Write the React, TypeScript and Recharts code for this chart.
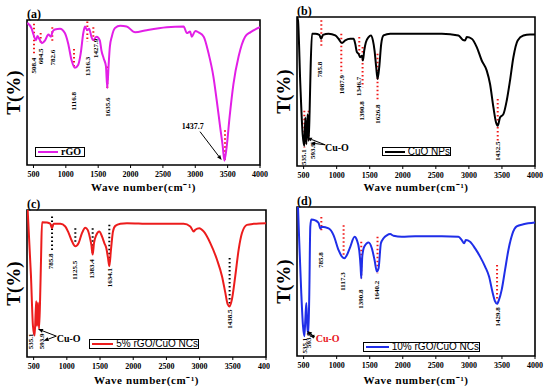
import React from "react";
import {
  LineChart,
  Line,
  XAxis,
  YAxis,
  ReferenceLine,
  ReferenceDot,
  ReferenceArea,
  Legend,
} from "recharts";

const TICKS = [500, 1000, 1500, 2000, 2500, 3000, 3500, 4000];

// (a) rGO
const rgoWave = [405, 472, 500, 540, 560, 590, 630, 680, 730, 770, 795, 830, 910, 985, 1035, 1090, 1140, 1190, 1230, 1270, 1295, 1330, 1360, 1395, 1420, 1475, 1525, 1550, 1585, 1620, 1640, 1660, 1680, 1710, 1760, 1840, 1940, 2070, 2250, 2560, 2820, 2870, 2920, 2945, 3000, 3050, 3130, 3205, 3280, 3330, 3385, 3425, 3450, 3485, 3530, 3590, 3670, 3770, 3850, 4000];
const rgoT = [98, 94, 90, 86, 89, 87, 84, 86, 90, 88.5, 92, 93.5, 94, 91, 84, 72, 67, 69, 77, 91, 95.5, 93, 94, 88.5, 86, 88.5, 86, 79, 73.5, 68, 53, 68, 81.5, 88.5, 94.5, 96, 95.5, 91.5, 93, 95, 95.5, 91, 92, 88.5, 92.5, 91.5, 88.5, 77, 61, 45, 26, 12.5, 3, 12.5, 33, 56, 75, 88.5, 91.5, 95];

// (b) CuO NPs
const cuoWave = [400, 415, 450, 486, 511, 526, 541, 561, 576, 591, 606, 627, 677, 737, 767, 793, 878, 979, 1029, 1080, 1130, 1205, 1256, 1281, 1306, 1331, 1357, 1382, 1397, 1417, 1442, 1483, 1518, 1548, 1573, 1598, 1618, 1644, 1674, 1709, 1810, 2087, 2590, 2842, 2907, 2943, 2968, 3043, 3119, 3194, 3270, 3320, 3371, 3411, 3436, 3471, 3522, 3572, 3622, 3673, 3738, 3824, 3925, 4000];
const cuoT = [100, 97.8, 55, 21, 13.5, 32.6, 14.6, 34.8, 16.9, 37, 66, 88.8, 88.8, 88, 85.4, 88, 88.8, 87.6, 85.4, 82.5, 84.3, 85.4, 85.4, 82, 76.4, 75.3, 73, 74, 70.8, 77.5, 83, 86.5, 87.6, 84.3, 77.5, 66.3, 58.4, 66.3, 82, 87.6, 88.8, 88.8, 88.8, 87.6, 84.7, 84.3, 86.5, 85.4, 79.8, 70.8, 64, 55, 39.3, 29.2, 27, 32.6, 34.8, 43.8, 57.3, 73, 84.3, 87.6, 88.3, 88.3];

// (c) 5% rGO/CuO NCs
const nc5Wave = [410, 460, 490, 515, 530, 540, 550, 566, 581, 596, 611, 626, 701, 751, 776, 802, 902, 977, 1028, 1078, 1128, 1178, 1228, 1279, 1314, 1344, 1369, 1389, 1409, 1444, 1489, 1529, 1565, 1595, 1620, 1640, 1665, 1695, 1730, 1806, 1906, 2257, 2759, 2860, 2910, 2935, 2995, 3061, 3161, 3261, 3337, 3387, 3422, 3452, 3487, 3537, 3588, 3638, 3713, 3814, 4000];
const nc5T = [100, 55, 21, 14.6, 30, 38, 21, 37, 19, 37, 66, 91.7, 91.5, 90.6, 87.6, 90.6, 90.6, 88.8, 84.3, 78.7, 75.3, 77.5, 84.3, 88, 86.5, 82, 76.4, 69.7, 77.5, 83, 85.4, 82, 77.5, 74, 67.4, 61.8, 73, 85.4, 89.2, 90.6, 91, 90.6, 90.6, 88.8, 85.4, 86.5, 87.6, 85.4, 77.5, 66.3, 55, 43.8, 36, 34.4, 39.3, 55, 73, 84.3, 89.9, 90.6, 91];

// (d) 10% rGO/CuO NCs
const nc10Wave = [415, 435, 465, 491, 511, 526, 541, 556, 571, 586, 601, 616, 677, 727, 752, 778, 878, 954, 1029, 1080, 1115, 1155, 1206, 1271, 1306, 1341, 1362, 1372, 1387, 1417, 1483, 1533, 1573, 1608, 1634, 1669, 1709, 1759, 1810, 1860, 1986, 2187, 2590, 2842, 2892, 2928, 2953, 3018, 3094, 3169, 3245, 3305, 3355, 3396, 3426, 3456, 3496, 3547, 3597, 3658, 3723, 3824, 4000];
const nc10T = [100, 75.6, 42, 20, 13.3, 24.4, 35.6, 20, 14.4, 42, 86.7, 91.6, 91, 89.3, 85.6, 86.7, 85.6, 81, 71, 66.7, 65.6, 67.8, 73.3, 80, 77.8, 71, 60, 52.2, 66.7, 73.3, 76.2, 72.2, 64.4, 56.7, 58.9, 75.6, 79, 81, 81.8, 80.7, 80, 80.4, 80.4, 80, 77.8, 75.6, 77.8, 76.7, 72.2, 66.7, 60, 53.3, 43.3, 36.7, 35, 37.8, 44.4, 57.8, 71, 82, 87, 88.4, 89.6];

type Peak = { x?: number; top?: number; bottom?: number; lx?: number; ly?: number; text?: string };
type Note = { text: string; x: number; y: number; color: string; size: number };
type Arrow = { x1: number; y1: number; x2: number; y2: number };

const rgoPeaks: Peak[] = [
  { x: 508, top: 97.5, bottom: 76, ly: 68.6, text: "508.4" },
  { x: 611, top: 91, bottom: 84, ly: 75, text: "604.5" },
  { x: 791, top: 95, bottom: 84, ly: 74, text: "782.6" },
  { x: 1126, top: 80, bottom: 68, ly: 44, text: "1116.8" },
  { x: 1332, top: 99, bottom: 85, ly: 68, text: "1316.3" },
  { x: 1425, top: 95, bottom: 87, lx: 1466, ly: 80.5, text: "1427.9" },
  { x: 1641, top: 68, bottom: 53, ly: 40, text: "1635.6" },
  { x: 3459, top: 24, bottom: 3 },
];
const rgoNotes: Note[] = [{ text: "1437.7", x: 2960, y: 27, color: "#000", size: 8 }];
const rgoArrows: Arrow[] = [{ x1: 3073, y1: 23, x2: 3408, y2: 3.4 }];

const cuoPeaks: Peak[] = [
  { x: 768, top: 97.8, bottom: 79.8, lx: 737, ly: 64.7, text: "785.8" },
  { x: 1070, top: 88.8, bottom: 61.8, ly: 54.6, text: "1087.9" },
  { x: 1342, top: 86.5, bottom: 75.3, lx: 1331, ly: 53.5, text: "1346.7" },
  { x: 1392, top: 79.8, bottom: 52.8, lx: 1372, ly: 37, text: "1390.8" },
  { x: 1618, top: 75.3, bottom: 43.8, ly: 34.8, text: "1626.8" },
  { x: 3436, top: 45, bottom: 17, ly: 10, text: "1432.5" },
  { x: 511, top: 37, bottom: 12.4, lx: 500, ly: 6, text: "535.1" },
  { x: 576, top: 37, bottom: 17, lx: 637, ly: 10, text: "593.9" },
];
const cuoNotes: Note[] = [{ text: "Cu-O", x: 1004, y: 12.4, color: "#000", size: 10 }];
const cuoArrows: Arrow[] = [
  { x1: 828, y1: 14.2, x2: 551, y2: 19 },
  { x1: 828, y1: 14.2, x2: 600, y2: 15.5 },
];

const nc5Peaks: Peak[] = [
  { x: 777, top: 95.5, bottom: 72, lx: 761, ly: 65, text: "785.8" },
  { x: 1128, top: 87.6, bottom: 77.5, lx: 1113, ly: 59, text: "1125.5" },
  { x: 1389, top: 87.6, bottom: 70.8, lx: 1379, ly: 60, text: "1383.4" },
  { x: 1640, top: 90, bottom: 65, lx: 1645, ly: 54, text: "1634.1" },
  { x: 3452, top: 67.4, bottom: 36, ly: 25.8, text: "1438.5" },
  { lx: 450, ly: 10.6, text: "535.1" },
  { lx: 616, ly: 10.6, text: "593.9" },
];
const nc5Notes: Note[] = [{ text: "Cu-O", x: 1028, y: 12.4, color: "#000", size: 10 }];
const nc5Arrows: Arrow[] = [
  { x1: 842, y1: 14.2, x2: 566, y2: 19 },
  { x1: 842, y1: 14.2, x2: 650, y2: 11 },
];

const nc10Peaks: Peak[] = [
  { x: 768, top: 93.3, bottom: 84.4, lx: 763, ly: 64.4, text: "785.8" },
  { x: 1105, top: 87.8, bottom: 67.8, lx: 1095, ly: 50, text: "1117.3" },
  { x: 1372, top: 76.7, bottom: 52.2, lx: 1367, ly: 38.2, text: "1390.8" },
  { x: 1618, top: 80, bottom: 55.6, lx: 1608, ly: 44, text: "1640.2" },
  { x: 3426, top: 61, bottom: 36.7, ly: 26.2, text: "1429.8" },
  { lx: 511, ly: 7, text: "535.1" },
  { lx: 576, ly: 10.7, text: "593.9" },
];
const nc10Notes: Note[] = [{ text: "Cu-O", x: 863, y: 11.6, color: "#e8141c", size: 10 }];
const nc10Arrows: Arrow[] = [
  { x1: 667, y1: 12.9, x2: 551, y2: 16.7 },
  { x1: 667, y1: 12.9, x2: 586, y2: 13.8 },
];

const toRows = (wave: number[], t: number[]) => wave.map((w, i) => ({ w, t: t[i] }));

const arrowShape = (p: any) => {
  const { x1, y1, x2, y2 } = p;
  const a = Math.atan2(y2 - y1, x2 - x1);
  const L = 5;
  const W = 2;
  const bx = x2 - L * Math.cos(a);
  const by = y2 - L * Math.sin(a);
  const pts = `${x2},${y2} ${bx - W * Math.sin(a)},${by + W * Math.cos(a)} ${bx + W * Math.sin(a)},${by - W * Math.cos(a)}`;
  return (
    <g>
      <line x1={x1} y1={y1} x2={bx} y2={by} stroke="#000" strokeWidth={1} />
      <polygon points={pts} fill="#000" />
    </g>
  );
};

type Box = { left: number; top: number; width: number; height: number; line: number; serif?: boolean };

type PanelProps = {
  letter: string;
  wave: number[];
  t: number[];
  name: string;
  color: string;
  dotColor: string;
  peaks: Peak[];
  notes: Note[];
  arrows: Arrow[];
  box: Box;
  width: number;
  top: number;
  right: number;
  xh: number;
};

function Panel({ letter, wave, t, name, color, dotColor, peaks, notes, arrows, box, width, top, right, xh }: PanelProps) {
  const data = toRows(wave, t);
  return (
    <LineChart width={width} height={193} data={data} margin={{ top, right, bottom: 0, left: 0 }}>
      <XAxis
        dataKey="w"
        type="number"
        domain={[400, 4000]}
        ticks={TICKS}
        interval={0}
        allowDataOverflow
        axisLine={false}
        tickSize={3}
        tickMargin={3}
        tickLine={{ stroke: "#000" }}
        tick={{ fontSize: 8, fill: "#000", fontWeight: 700 }}
        height={xh}
        label={{ value: "Wave number(cm⁻¹)", position: "insideBottom", offset: 2, fontSize: 11, fill: "#000", fontWeight: 700, letterSpacing: 0.6 }}
      />
      <YAxis
        type="number"
        domain={[0, 100]}
        width={27}
        tick={false}
        tickLine={false}
        axisLine={false}
        label={{ value: "T(%)", angle: -90, position: "center", fontSize: 19, fill: "#000", fontWeight: 700 }}
      />
      <ReferenceArea
        x1={400}
        x2={4000}
        y1={0}
        y2={100}
        fill="none"
        stroke="#000"
        strokeWidth={1.6}
        ifOverflow="visible"
        label={(p: any) => (
          <text x={p.viewBox.x} y={p.viewBox.y - 2} fontSize={12} fontWeight={700} fill="#000">
            {letter}
          </text>
        )}
      />
      {peaks
        .filter((p) => p.x !== undefined)
        .map((p, i) => (
          <ReferenceLine
            key={`d${i}`}
            segment={[{ x: p.x, y: p.top }, { x: p.x, y: p.bottom }]}
            stroke={dotColor}
            strokeWidth={2}
            strokeDasharray="1.5 2.5"
            ifOverflow="visible"
          />
        ))}
      <Line
        dataKey="t"
        name={name}
        type="monotone"
        stroke={color}
        strokeWidth={2}
        dot={false}
        isAnimationActive={false}
      />
      {peaks
        .filter((p) => p.text)
        .map((p, i) => (
          <ReferenceDot
            key={`l${i}`}
            x={p.lx ?? p.x}
            y={p.ly}
            r={0}
            fill="none"
            stroke="none"
            ifOverflow="visible"
            label={{ value: p.text, angle: -90, position: "center", fontSize: 7, fill: "#000", fontWeight: 700 }}
          />
        ))}
      {arrows.map((a, i) => (
        <ReferenceLine
          key={`a${i}`}
          segment={[{ x: a.x1, y: a.y1 }, { x: a.x2, y: a.y2 }]}
          ifOverflow="visible"
          shape={arrowShape}
        />
      ))}
      {notes.map((n, i) => (
        <ReferenceDot
          key={`n${i}`}
          x={n.x}
          y={n.y}
          r={0}
          fill="none"
          stroke="none"
          ifOverflow="visible"
          label={{ value: n.text, position: "center", fontSize: n.size, fill: n.color, fontWeight: 700 }}
        />
      ))}
      <Legend
        layout="horizontal"
        verticalAlign="middle"
        align="center"
        wrapperStyle={{ left: box.left, top: box.top, width: "auto", height: "auto" }}
        content={(lp: any) => {
          const entry = lp.payload && lp.payload[0];
          return (
            <div
              style={{
                boxSizing: "border-box",
                width: box.width,
                height: box.height,
                border: "1.5px solid #000",
                display: "flex",
                alignItems: "center",
                paddingLeft: 2,
                background: "#fff",
              }}
            >
              <div style={{ width: box.line, height: 2, background: entry ? entry.color : color }} />
              <span
                style={{
                  marginLeft: 3,
                  fontSize: 10,
                  lineHeight: "10px",
                  fontFamily: box.serif ? '"Liberation Serif", serif' : '"Liberation Sans", Arial, sans-serif',
                  fontWeight: box.serif ? 700 : 400,
                  color: "#000",
                  whiteSpace: "nowrap",
                }}
              >
                {entry ? entry.value : name}
              </span>
            </div>
          );
        }}
      />
    </LineChart>
  );
}

export default function App() {
  return (
    <div
      style={{
        position: "absolute",
        left: 0,
        top: 0,
        width: 550,
        height: 386,
        overflow: "hidden",
        background: "#fff",
        fontFamily: '"Liberation Serif", "Times New Roman", serif',
        fontWeight: 700,
      }}
    >
      <div style={{ position: "absolute", left: 0, top: 0 }}>
        <Panel
          letter="(a)"
          wave={rgoWave}
          t={rgoT}
          name="rGO"
          color="#e21ee6"
          dotColor="#f01818"
          peaks={rgoPeaks}
          notes={rgoNotes}
          arrows={rgoArrows}
          box={{ left: 35, top: 147, width: 50, height: 10, line: 20, serif: true }}
          width={275}
          top={20}
          right={15}
          xh={28}
        />
      </div>
      <div style={{ position: "absolute", left: 270, top: 0, background: "#fff" }}>
        <Panel
          letter="(b)"
          wave={cuoWave}
          t={cuoT}
          name="CuO NPs"
          color="#000"
          dotColor="#f01818"
          peaks={cuoPeaks}
          notes={cuoNotes}
          arrows={cuoArrows}
          box={{ left: 112, top: 147, width: 69, height: 9, line: 24 }}
          width={280}
          top={17}
          right={15}
          xh={27}
        />
      </div>
      <div style={{ position: "absolute", left: 0, top: 193 }}>
        <Panel
          letter="(c)"
          wave={nc5Wave}
          t={nc5T}
          name="5% rGO/CuO NCs"
          color="#ec1c1c"
          dotColor="#000"
          peaks={nc5Peaks}
          notes={nc5Notes}
          arrows={nc5Arrows}
          box={{ left: 89, top: 146, width: 110, height: 10, line: 22 }}
          width={275}
          top={17}
          right={9}
          xh={29}
        />
      </div>
      <div style={{ position: "absolute", left: 270, top: 193, background: "#fff" }}>
        <Panel
          letter="(d)"
          wave={nc10Wave}
          t={nc10T}
          name="10% rGO/CuO NCs"
          color="#1f2ee8"
          dotColor="#f01818"
          peaks={nc10Peaks}
          notes={nc10Notes}
          arrows={nc10Arrows}
          box={{ left: 93, top: 149, width: 117, height: 10, line: 24 }}
          width={280}
          top={14}
          right={15}
          xh={30}
        />
      </div>
    </div>
  );
}
